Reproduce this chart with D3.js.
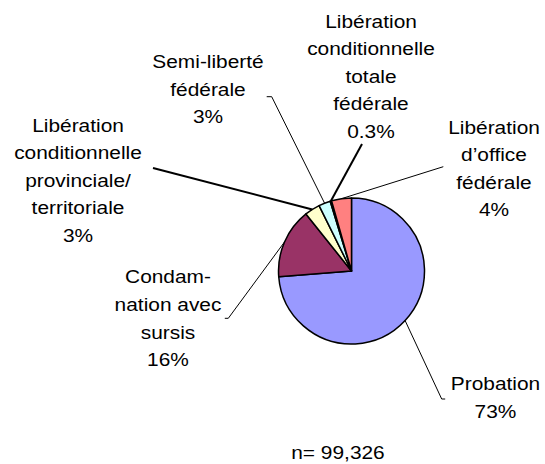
<!DOCTYPE html>
<html>
<head>
<meta charset="utf-8">
<script src="https://cdn.jsdelivr.net/npm/d3@7"></script>
<style>
  body { margin: 0; background: #fff; }
  text { font-family: "Liberation Sans", Arial, sans-serif; fill: #000; }
</style>
</head>
<body>
<svg id="chart" width="545" height="464"></svg>
<script>
// slices clockwise from 12 o'clock
var categories = ["Probation", "Condamnation avec sursis",
  "Libération conditionnelle provinciale/territoriale", "Semi-liberté fédérale",
  "Libération conditionnelle totale fédérale", "Libération d'office fédérale"];
var values = [73.6, 15.5, 3.4, 2.6, 0.3, 4.4];
var pctLabels = ["73%", "16%", "3%", "3%", "0.3%", "4%"];
var labelLines = [
  ["Probation"],
  ["Condam-", "nation avec", "sursis"],
  ["Libération", "conditionnelle", "provinciale/", "territoriale"],
  ["Semi-liberté", "fédérale"],
  ["Libération", "conditionnelle", "totale", "fédérale"],
  ["Libération", "d\u2019office", "fédérale"]
];
var colors = ["#9999ff", "#993366", "#ffffcc", "#ccffff", "#660066", "#ff8080"];
var note = "n= 99,326";

// layout of labels: text centre x, first baseline, leader start, hook
var labelPos = [
  {x: 495.5, y: 390,   lx: 441.7, ly: 399,   hook: 3.5, w: 1},
  {x: 168,   y: 283.3, lx: 228.3, ly: 318.3, hook: -3.5, w: 1},
  {x: 78,    y: 131.5, lx: 153,   ly: 168,   hook: 0, w: 2},
  {x: 208,   y: 68,    lx: 271.7, ly: 96.7,  hook: -5, w: 1},
  {x: 371,   y: 27.5,  lx: 362,   ly: 144,   hook: 0, w: 2},
  {x: 494,   y: 133.5, lx: 443.3, ly: 166.7, hook: 0, w: 1}
];

var cx = 351.5, cy = 271, radius = 73;
var lineStep = 27.6, fontSize = 18.5, stretch = 1.13;

var svg = d3.select("#chart");
var g = svg.append("g").attr("transform", "translate(" + cx + "," + cy + ")");

var pie = d3.pie().sort(null).value(function(d) { return d; });
var arcs = pie(values);
var arc = d3.arc().innerRadius(0).outerRadius(radius);
var edge = d3.arc().innerRadius(radius).outerRadius(radius);

// leader lines first so slices sit on top
arcs.forEach(function(a, i) {
  var p = labelPos[i];
  var e = edge.centroid(a);
  var pts = [];
  if (p.hook) pts.push([p.lx + p.hook, p.ly]);
  pts.push([p.lx, p.ly]);
  pts.push([cx + e[0], cy + e[1]]);
  svg.append("path")
    .attr("d", d3.line()(pts))
    .attr("fill", "none")
    .attr("stroke", "#000")
    .attr("stroke-width", p.w);
});

g.selectAll(".slice")
  .data(arcs)
  .enter()
  .append("path")
  .attr("class", "slice")
  .attr("d", arc)
  .attr("fill", function(d, i) { return colors[i]; })
  .attr("stroke", "#000")
  .attr("stroke-width", 1.5)
  .attr("stroke-linejoin", "round");

labelLines.forEach(function(lines, i) {
  var p = labelPos[i];
  var all = lines.concat([pctLabels[i]]);
  all.forEach(function(t, k) {
    svg.append("text")
      .attr("transform", "translate(" + p.x + "," + (p.y + k * lineStep) + ") scale(" + stretch + ",1)")
      .attr("text-anchor", "middle")
      .style("font-size", fontSize + "px")
      .text(t);
  });
});

svg.append("text")
  .attr("transform", "translate(338,459.3) scale(" + stretch + ",1)")
  .attr("text-anchor", "middle")
  .style("font-size", fontSize + "px")
  .text(note);
</script>
</body>
</html>
